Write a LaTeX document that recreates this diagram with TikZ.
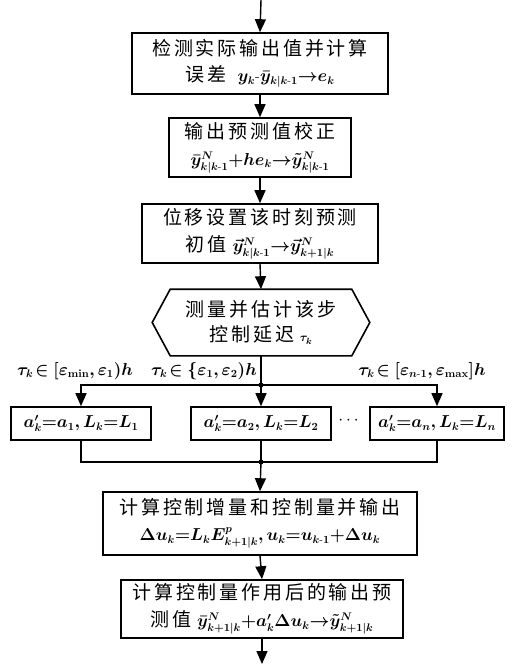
\documentclass[tikz,border=0pt]{standalone}
\usepackage{amsmath}
\usepackage{bm}
\usepackage[no-math]{fontspec}
\newfontfamily\cjk[LetterSpace=15]{Noto Sans CJK SC}
\newcommand{\mth}[1]{{\fontsize{16}{20}\selectfont$\bm{#1}$}}
\usetikzlibrary{arrows.meta}
\tikzset{
  box/.style={draw, line width=1.6pt, inner sep=0pt, align=center,
    font=\fontsize{19}{25}\selectfont},
  lbl/.style={inner sep=0pt, font=\fontsize{16}{20}\selectfont},
  conn/.style={line width=1.4pt},
  arr/.style={conn, -{Triangle[width=11pt,length=13pt]}},
  dot/.style={circle, fill, inner sep=0pt, minimum size=5pt}
}
\begin{document}
\begin{tikzpicture}[x=1pt,y=-1pt]
\useasboundingbox (0,0) rectangle (517,672);
\coordinate (top) at (261,0);
\node[box, minimum width=256pt, minimum height=61pt] (b1) at (260,63.5)
  {{\cjk 检测实际输出值并计算}\\[1pt]{\cjk 误差}\ \ \mth{y_k\text{-}\bar{y}_{k|k\text{-}1}{\to}e_k}};
\node[box, minimum width=182pt, minimum height=59pt] (b2) at (260,147.5)
  {{\cjk 输出预测值校正}\\[2pt]\mth{\bar{y}^N_{k|k\text{-}1}{+}he_k{\to}\tilde{y}^N_{k|k\text{-}1}}};
\node[box, minimum width=236pt, minimum height=59pt] (b3) at (260,233.5)
  {{\cjk 位移设置该时刻预测}\\[2pt]{\cjk 初值}\ \mth{\vec{y}^N_{k|k\text{-}1}{\to}\vec{y}^N_{k+1|k}}};
\node[box, draw=none, minimum width=216pt, minimum height=65pt] (hex) at (261,322.5)
  {{\cjk 测量并估计该步}\\{\cjk 控制延迟}\ {\fontsize{13}{15}\selectfont$\bm{\tau_k}$}};
\draw[line width=1.6pt] (hex.west) -- ([xshift=18pt]hex.north west) -- ([xshift=-18pt]hex.north east)
  -- (hex.east) -- ([xshift=-18pt]hex.south east) -- ([xshift=18pt]hex.south west) -- cycle;
\coordinate (j1) at (261,385);
\node[box, minimum width=140pt, minimum height=33pt] (ba) at (81,423.5)
  {\mth{a'_k{=}a_1,L_k{=}L_1}};
\node[box, minimum width=140pt, minimum height=33pt] (bb) at (261,423.5)
  {\mth{a'_k{=}a_2,L_k{=}L_2}};
\node[box, minimum width=134pt, minimum height=33pt] (bc) at (437,423.5)
  {\mth{a'_k{=}a_n,L_k{=}L_n}};
\node[lbl] (dots) at (350,421) {$\cdots$};
\node[lbl] (l1) at (75,371) {$\bm{\tau_k\!\in[\varepsilon_{\min},\varepsilon_1)h}$};
\node[lbl] (l2) at (204,371) {$\bm{\tau_k\!\in\{\varepsilon_1,\varepsilon_2)h}$};
\node[lbl] (l3) at (422,371) {$\bm{\tau_k\!\in[\varepsilon_{n\text{-}1},\varepsilon_{\max}]h}$};
\coordinate (j2) at (261,462);
\node[box, minimum width=314pt, minimum height=63pt] (b5) at (260,523.5)
  {{\cjk 计算控制增量和控制量并输出}\\[1pt]\mth{\Delta u_k{=}L_kE^p_{k+1|k},u_k{=}u_{k\text{-}1}{+}\Delta u_k}};
\node[box, minimum width=282pt, minimum height=58pt] (b6) at (262,609)
  {{\cjk 计算控制量作用后的输出预}\\[2pt]{\cjk 测值}\ \mth{\bar{y}^N_{k+1|k}{+}a'_k\Delta u_k{\to}\tilde{y}^N_{k+1|k}}};
\coordinate (end) at (262,664);
\draw[arr] (top) -- (b1.north);
\draw[arr] (b1.south) -- (b2.north);
\draw[arr] (b2.south) -- (b3.north);
\draw[arr] (b3.south) -- (hex.north);
\draw[conn] (hex.south) -- (j1);
\draw[arr] (j1) -| (ba.north);
\draw[arr] (j1) -- (bb.north);
\draw[arr] (j1) -| (bc.north);
\draw[conn] (ba.south) |- (j2);
\draw[conn] (bc.south) |- (j2);
\draw[conn] (bb.south) -- (j2);
\draw[arr] (j2) -- (b5.north);
\draw[arr] (b5.south) -- (b6.north);
\draw[arr] (b6.south) -- (end);
\node[dot] (d1) at (j1) {};
\node[dot] (d2) at (j2) {};
\end{tikzpicture}
\end{document}
